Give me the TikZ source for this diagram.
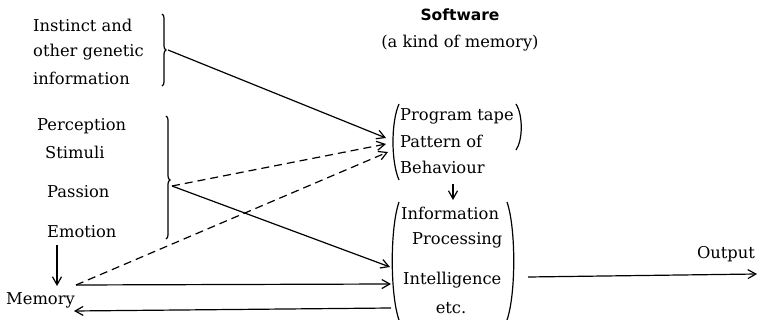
\documentclass[tikz,border=0pt]{standalone}
\usepackage{fontspec}
\setmainfont{DejaVu Serif}
\newfontfamily\swfont{DejaVu Sans}
\usetikzlibrary{arrows.meta,decorations.pathreplacing}
\begin{document}
\begin{tikzpicture}[x=1pt,y=-1pt,
  fs/.style={font=\fontsize{16.3}{18}\selectfont},
  txt/.style={inner sep=0pt,anchor=west,fs},
  ln/.style={line width=1.2pt},
  arr/.style={ln,-{Straight Barb[length=8pt,width=9pt,line width=1.2pt]}},
  dsh/.style={arr,dash pattern=on 8pt off 5pt},
  brc/.style={line width=1.2pt,decorate,decoration={brace,amplitude=4pt}},
  par/.style={line width=1.2pt}]
\useasboundingbox (0,0) rectangle (758,320);
% left texts
\node[txt] (i1) at (33,25) {Instinct and};
\node[txt] (i2) at (33,52) {other genetic};
\node[txt] (i3) at (33,78) {information};
\node[txt] (p1) at (37,126) {Perception};
\node[txt] (p2) at (45,152) {Stimuli};
\node[txt] (p3) at (47,192) {Passion};
\node[txt] (p4) at (47,232) {Emotion};
\node[txt] (mem) at (6,300) {Memory};
% braces
\draw[brc] (162,14) -- (162,86);
\draw[brc,decoration={brace,amplitude=4pt,aspect=0.52}] (166,116) -- (166,239);
\coordinate (b1) at (168,50);
\coordinate (b2) at (172,186);
% right texts
\node[inner sep=0pt,font=\swfont\bfseries\fontsize{15.5}{18}\selectfont] (sw) at (460,15) {Software};
\node[inner sep=0pt,fs] (kind) at (460,43) {(a kind of memory)};
\node[txt] (pt) at (400,116) {Program tape};
\node[txt] (po) at (400,141) {Pattern of};
\node[txt] (be) at (400,167) {Behaviour};
\node[txt] (inf) at (401,213) {Information};
\node[txt] (pro) at (412,240) {Processing};
\node[txt] (int) at (403,280) {Intelligence};
\node[inner sep=0pt,fs] (etc) at (451,308) {etc.};
\node[inner sep=0pt,fs] (out) at (726,254) {Output};
% parentheses
\draw[par] (399,104) .. controls (391,122) and (391,162) .. (399,180);
\draw[par] (516,104) .. controls (523,115) and (523,140) .. (516,150);
\draw[par] (399,202) .. controls (390,228) and (390,294) .. (399,320);
\draw[par] (507,202) .. controls (516,228) and (516,294) .. (507,320);
% target coordinates
\coordinate (t1) at (386,138);
\coordinate (t2) at (386,144);
\coordinate (t3) at (388,152);
\coordinate (t4) at (390,267);
\coordinate (t5) at (391,284);
\coordinate (r0) at (391,308);
\coordinate (m1) at (76,285);
\coordinate (m2) at (74,311);
\coordinate (e0) at (57,245);
\coordinate (e1) at (57,286);
\coordinate (bd0) at (453,184);
\coordinate (bd1) at (453,200);
\coordinate (o0) at (528,277);
\coordinate (o1) at (757,274);
% connectors
\draw[arr] (b1) -- (t1);
\draw[dsh] (b2) -- (t2);
\draw[dsh] (m1) -- (t3);
\draw[arr] (b2) -- (t4);
\draw[arr] (m1) -- (t5);
\draw[arr] (r0) -- (m2);
\draw[arr] (e0) -- (e1);
\draw[arr] (bd0) -- (bd1);
\draw[arr] (o0) -- (o1);
\end{tikzpicture}
\end{document}
